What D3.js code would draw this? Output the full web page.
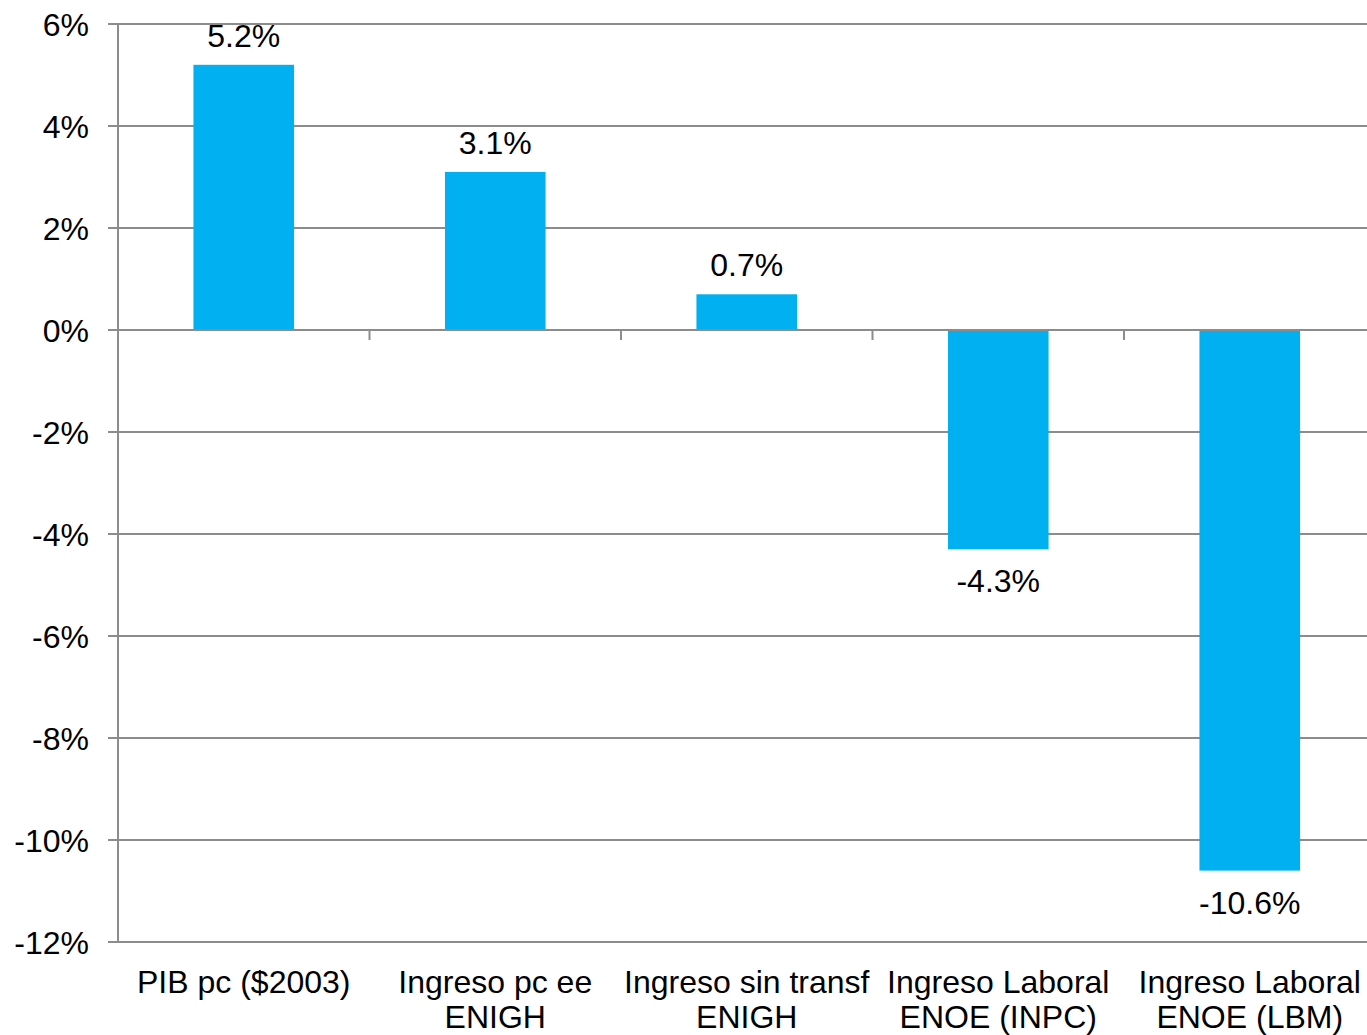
<!DOCTYPE html>
<html><head><meta charset="utf-8">
<script src="https://cdn.jsdelivr.net/npm/d3@7"></script>
<style>body{margin:0;background:#fff}svg{display:block;font-family:"Liberation Sans",Arial,sans-serif}</style>
</head><body><svg id="c" width="1367" height="1035"></svg>
<script>
const categories = [["PIB pc ($2003)"],["Ingreso pc ee","ENIGH"],["Ingreso sin transf","ENIGH"],["Ingreso Laboral","ENOE (INPC)"],["Ingreso Laboral","ENOE (LBM)"]];
const values = [5.2, 3.1, 0.7, -4.3, -10.6];
const yTicks = [6,4,2,0,-2,-4,-6,-8,-10,-12];

const svg = d3.select("#c");
const x = d3.scaleBand().domain(d3.range(categories.length)).range([118,1375.5]).paddingInner(0.6).paddingOuter(0.3);
const y = d3.scaleLinear().domain([-12,6]).range([942,24]);
const grid = "#8c8c8c";
const fs = 32;

svg.append("g").selectAll("line").data(yTicks).join("line")
  .attr("x1",108).attr("x2",1367).attr("y1",d=>y(d)).attr("y2",d=>y(d))
  .attr("stroke",grid).attr("stroke-width",2);
svg.append("line").attr("x1",118).attr("x2",118).attr("y1",24).attr("y2",942).attr("stroke",grid).attr("stroke-width",2);
svg.append("g").selectAll("text").data(yTicks).join("text")
  .attr("x",89).attr("y",d=>y(d)).attr("dy","0.36em").attr("text-anchor","end")
  .attr("font-size",fs).attr("fill","#000").text(d=>d+"%");
const step = x.step();
svg.append("g").selectAll("line").data(d3.range(1,categories.length)).join("line")
  .attr("x1",d=>118+d*step).attr("x2",d=>118+d*step).attr("y1",y(0)).attr("y2",y(0)+10)
  .attr("stroke",grid).attr("stroke-width",2);
svg.append("g").selectAll("rect").data(values).join("rect")
  .attr("x",(d,i)=>x(i)).attr("width",x.bandwidth())
  .attr("y",d=>y(Math.max(0,d))).attr("height",d=>Math.abs(y(d)-y(0)))
  .attr("fill","#00B0F0");
svg.append("line").attr("x1",108).attr("x2",1367).attr("y1",y(0)).attr("y2",y(0)).attr("stroke",grid).attr("stroke-width",2);
svg.append("g").selectAll("text").data(values).join("text")
  .attr("x",(d,i)=>x(i)+x.bandwidth()/2)
  .attr("y",d=>d>=0? y(d)-18 : y(d)+43)
  .attr("text-anchor","middle").attr("font-size",fs).attr("fill","#000")
  .text(d=>d.toFixed(1)+"%");
const cl = svg.append("g").selectAll("text").data(categories).join("text")
  .attr("x",(d,i)=>x(i)+x.bandwidth()/2).attr("y",993)
  .attr("text-anchor","middle").attr("font-size",fs).attr("fill","#000");
cl.selectAll("tspan").data(d=>d).join("tspan")
  .attr("x",function(){return this.parentNode.getAttribute("x");})
  .attr("dy",(d,i)=>i===0?0:35).text(d=>d);
</script></body></html>
